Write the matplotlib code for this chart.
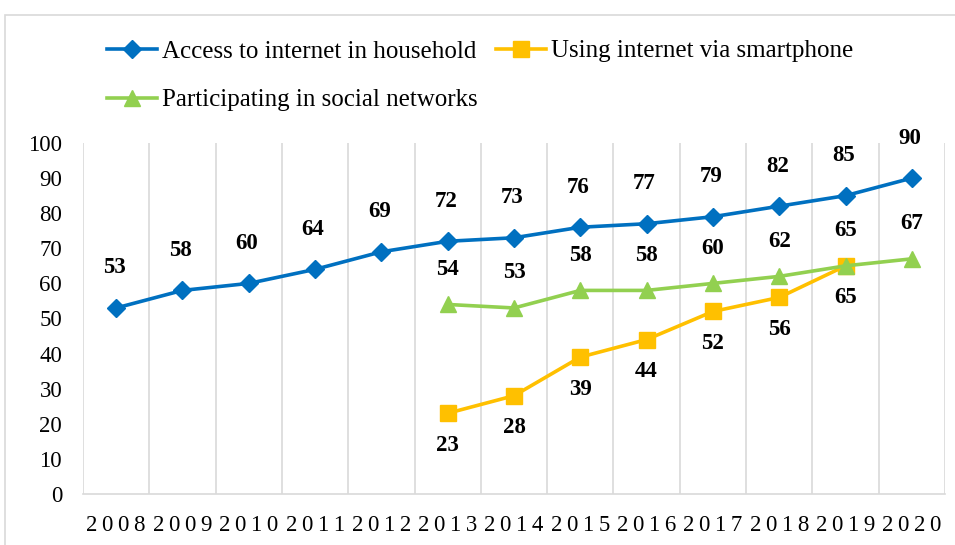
import numpy as np
import matplotlib.pyplot as plt
from matplotlib.patches import Rectangle

plt.rcParams['font.family'] = ['Liberation Serif', 'DejaVu Serif']

years = [2008, 2009, 2010, 2011, 2012, 2013, 2014, 2015, 2016, 2017, 2018, 2019, 2020]
access = [53, 58, 60, 64, 69, 72, 73, 76, 77, 79, 82, 85, 90]
smart_years = [2013, 2014, 2015, 2016, 2017, 2018, 2019]
smartphone = [23, 28, 39, 44, 52, 56, 65]
social_years = [2013, 2014, 2015, 2016, 2017, 2018, 2019, 2020]
social = [54, 53, 58, 58, 60, 62, 65, 67]

blue = '#0070C0'
orange = '#FFC000'
green = '#92D050'

fig = plt.figure(figsize=(9.55, 5.45), dpi=100)
# outer chart border (only left and top visible)
fig.patches.append(Rectangle((5 / 955, -0.1), 1.2, 1 - 15 / 545 + 0.1,
                             transform=fig.transFigure, fill=False,
                             edgecolor='#d9d9d9', linewidth=1.2))

ax = fig.add_axes([83 / 955, 1 - 494 / 545, (945 - 83) / 955, (494 - 143) / 545])

x_all = np.arange(len(years))
x_smart = [years.index(y) for y in smart_years]
x_social = [years.index(y) for y in social_years]

l_access, = ax.plot(x_all, access, color=blue, lw=2.6, marker='D', ms=9.5,
                    label='Access to internet in household')
l_smart, = ax.plot(x_smart, smartphone, color=orange, lw=2.6, marker='s', ms=12,
                   label='Using internet via smartphone')
l_social, = ax.plot(x_social, social, color=green, lw=2.6, marker='^', ms=12,
                    label='Participating in social networks')

lab = dict(ha='center', va='center', fontsize=16.5, fontweight='bold',
           textcoords='offset pixels')
for xi, v in zip(x_all, access):
    ax.annotate(str(v), (xi, v), xytext=(-2, 40), **lab)
for xi, v in zip(x_smart, smartphone):
    ax.annotate(str(v), (xi, v), xytext=(0, -32), **lab)
for xi, v in zip(x_social, social):
    ax.annotate(str(v), (xi, v), xytext=(0, 35), **lab)

ax.set_xlim(-0.5, len(years) - 0.5)
ax.set_ylim(0, 100)
ax.set_yticks(range(0, 101, 10))
ax.set_xticks(x_all)
ax.set_xticklabels(['\u2009'.join(str(y)) for y in years])
ax.set_xticks(np.arange(-0.5, len(years), 1), minor=True)
ax.grid(which='minor', axis='x', color='#d9d9d9', lw=1.2)
ax.tick_params(axis='x', which='both', length=0, labelsize=16.5, pad=15)
ax.tick_params(axis='y', length=0, labelsize=16.5, pad=15)
for s in ['top', 'right', 'left']:
    ax.spines[s].set_visible(False)
ax.spines['bottom'].set_color('#d9d9d9')
ax.spines['bottom'].set_linewidth(1.2)

# column-major fill: Access/Social in col 1, Smartphone in col 2
fig.legend(handles=[l_access, l_social, l_smart], loc='upper left',
           bbox_to_anchor=(107 / 955, 1 - 40 / 545), ncol=2,
           frameon=False, fontsize=18, handlelength=2.0, handletextpad=0.2,
           columnspacing=0.75, labelspacing=1.05, borderpad=0, borderaxespad=0)

fig.savefig('out.png', dpi=100)
